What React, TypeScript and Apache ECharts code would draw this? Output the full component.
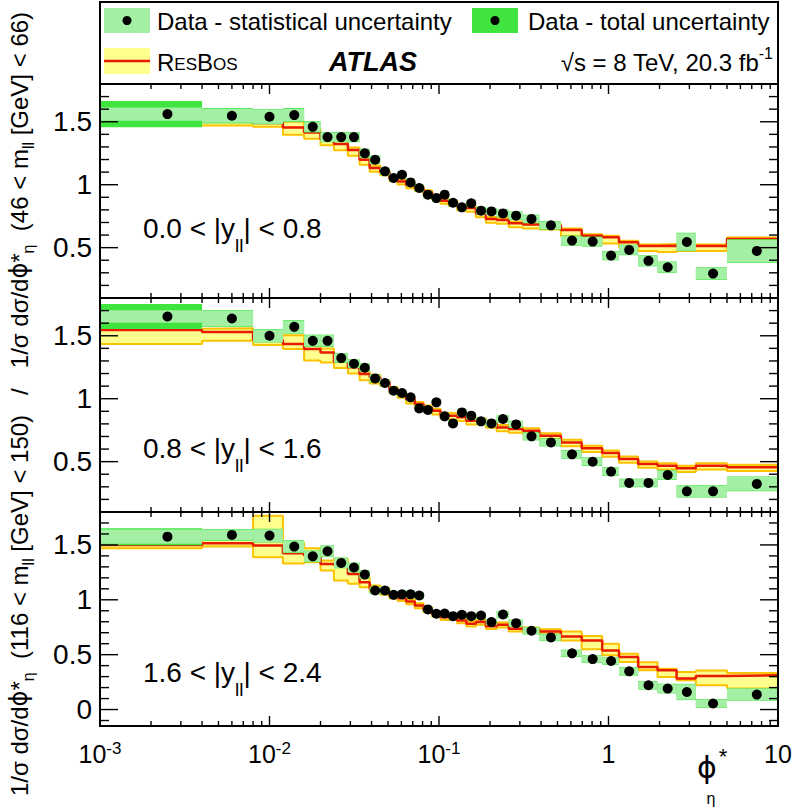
import React, { useEffect, useRef } from 'react';
import * as echarts from 'echarts';

const FONT = '"Liberation Sans", Arial, Helvetica, sans-serif';
const PHI_FONT = '"DejaVu Sans", "Liberation Sans", sans-serif';

// phi*_eta bin edges (first bin drawn from the axis minimum)
const binEdges = [0.001, 0.004, 0.008, 0.012, 0.016, 0.02, 0.024, 0.029, 0.034, 0.039, 0.045, 0.051, 0.057, 0.064, 0.072, 0.081, 0.091, 0.102, 0.114, 0.128, 0.145, 0.165, 0.189, 0.219, 0.258, 0.312, 0.391, 0.524, 0.695, 0.918, 1.153, 1.496, 1.947, 2.522, 3.277, 5, 10];

// Panel 1: 0.0 < |y_ll| < 0.8
const data1 = [1.561, 1.548, 1.54, 1.553, 1.46, 1.378, 1.378, 1.378, 1.249, 1.198, 1.106, 1.053, 1.079, 1.018, 0.974, 0.921, 0.894, 0.921, 0.857, 0.82, 0.852, 0.794, 0.788, 0.772, 0.754, 0.728, 0.677, 0.556, 0.548, 0.437, 0.482, 0.395, 0.344, 0.545, 0.294, 0.474];
const stat1 = [0.053, 0.055, 0.055, 0.05, 0.04, 0.037, 0.037, 0.037, 0.033, 0.03, 0.027, 0.025, 0.025, 0.025, 0.025, 0.025, 0.025, 0.025, 0.025, 0.025, 0.025, 0.025, 0.025, 0.027, 0.03, 0.03, 0.03, 0.036, 0.036, 0.033, 0.038, 0.04, 0.042, 0.069, 0.046, 0.089];
const total1 = [0.104, 0.062, 0.06, 0.056, 0.045, 0.041, 0.041, 0.041, 0.037, 0.034, 0.031, 0.029, 0.029, 0.029, 0.029, 0.029, 0.029, 0.029, 0.029, 0.029, 0.029, 0.029, 0.029, 0.031, 0.034, 0.034, 0.034, 0.04, 0.04, 0.037, 0.042, 0.044, 0.046, 0.073, 0.05, 0.093];
const resbos1 = [1.5, 1.5, 1.49, 1.455, 1.415, 1.363, 1.323, 1.275, 1.198, 1.132, 1.1, 1.053, 1.026, 0.997, 0.974, 0.94, 0.905, 0.873, 0.86, 0.825, 0.815, 0.772, 0.728, 0.72, 0.693, 0.683, 0.675, 0.64, 0.595, 0.582, 0.542, 0.513, 0.516, 0.513, 0.513, 0.569];
const resbosUp1 = [0.03, 0.03, 0.03, 0.045, 0.03, 0.03, 0.03, 0.02, 0.02, 0.02, 0.015, 0.015, 0.015, 0.015, 0.015, 0.015, 0.015, 0.015, 0.015, 0.015, 0.015, 0.015, 0.015, 0.015, 0.015, 0.015, 0.015, 0.012, 0.012, 0.012, 0.012, 0.012, 0.012, 0.012, 0.012, 0.012];
const resbosDown1 = [0.03, 0.03, 0.03, 0.058, 0.05, 0.05, 0.05, 0.045, 0.04, 0.03, 0.025, 0.025, 0.025, 0.025, 0.025, 0.025, 0.025, 0.025, 0.03, 0.03, 0.03, 0.03, 0.03, 0.03, 0.03, 0.03, 0.03, 0.05, 0.055, 0.05, 0.04, 0.04, 0.05, 0.04, 0.04, 0.03];

// Panel 2: 0.8 < |y_ll| < 1.6
const data2 = [1.653, 1.637, 1.5, 1.571, 1.46, 1.46, 1.323, 1.278, 1.246, 1.161, 1.125, 1.063, 1.045, 1.011, 0.923, 0.91, 0.971, 0.86, 0.804, 0.891, 0.865, 0.82, 0.804, 0.839, 0.796, 0.701, 0.653, 0.558, 0.5, 0.421, 0.331, 0.331, 0.394, 0.264, 0.264, 0.323];
const stat2 = [0.05, 0.06, 0.05, 0.05, 0.045, 0.045, 0.035, 0.03, 0.03, 0.03, 0.027, 0.025, 0.025, 0.025, 0.025, 0.025, 0.025, 0.025, 0.025, 0.025, 0.025, 0.025, 0.025, 0.025, 0.025, 0.028, 0.028, 0.03, 0.03, 0.03, 0.03, 0.03, 0.035, 0.045, 0.045, 0.055];
const total2 = [0.1, 0.066, 0.054, 0.054, 0.049, 0.049, 0.039, 0.034, 0.034, 0.034, 0.031, 0.029, 0.029, 0.029, 0.029, 0.029, 0.029, 0.029, 0.029, 0.029, 0.029, 0.029, 0.029, 0.029, 0.029, 0.032, 0.032, 0.034, 0.034, 0.034, 0.034, 0.034, 0.039, 0.049, 0.049, 0.059];
const resbos2 = [1.545, 1.53, 1.466, 1.434, 1.394, 1.368, 1.294, 1.25, 1.196, 1.17, 1.13, 1.077, 1.037, 0.992, 0.958, 0.931, 0.905, 0.873, 0.865, 0.852, 0.825, 0.825, 0.799, 0.772, 0.759, 0.746, 0.706, 0.653, 0.606, 0.569, 0.521, 0.482, 0.468, 0.447, 0.468, 0.455];
const resbosUp2 = [0.01, 0.03, 0.03, 0.07, 0.03, 0.03, 0.02, 0.02, 0.02, 0.02, 0.015, 0.015, 0.015, 0.015, 0.015, 0.015, 0.015, 0.015, 0.02, 0.02, 0.02, 0.02, 0.02, 0.02, 0.02, 0.02, 0.02, 0.02, 0.02, 0.02, 0.02, 0.02, 0.02, 0.02, 0.02, 0.02];
const resbosDown2 = [0.11, 0.07, 0.04, 0.04, 0.09, 0.08, 0.05, 0.05, 0.05, 0.05, 0.03, 0.03, 0.03, 0.03, 0.03, 0.03, 0.03, 0.03, 0.03, 0.03, 0.03, 0.03, 0.03, 0.03, 0.03, 0.03, 0.03, 0.03, 0.03, 0.03, 0.03, 0.03, 0.03, 0.03, 0.03, 0.03];

// Panel 3: 1.6 < |y_ll| < 2.4
const data3 = [1.575, 1.591, 1.585, 1.485, 1.396, 1.442, 1.336, 1.294, 1.23, 1.085, 1.085, 1.045, 1.05, 1.05, 1.039, 0.912, 0.873, 0.875, 0.851, 0.864, 0.851, 0.857, 0.797, 0.866, 0.787, 0.718, 0.657, 0.512, 0.46, 0.442, 0.348, 0.221, 0.191, 0.16, 0.055, 0.136];
const stat3 = [0.065, 0.05, 0.058, 0.055, 0.05, 0.05, 0.045, 0.04, 0.035, 0.03, 0.03, 0.03, 0.03, 0.03, 0.03, 0.025, 0.025, 0.025, 0.025, 0.025, 0.025, 0.025, 0.025, 0.03, 0.03, 0.03, 0.03, 0.03, 0.03, 0.03, 0.035, 0.035, 0.04, 0.07, 0.035, 0.055];
const total3 = [0.078, 0.055, 0.062, 0.059, 0.054, 0.054, 0.049, 0.044, 0.039, 0.034, 0.034, 0.034, 0.034, 0.034, 0.034, 0.029, 0.029, 0.029, 0.029, 0.029, 0.029, 0.029, 0.029, 0.034, 0.034, 0.034, 0.034, 0.034, 0.034, 0.034, 0.039, 0.039, 0.044, 0.074, 0.039, 0.059];
const resbos3 = [1.5, 1.515, 1.494, 1.424, 1.403, 1.327, 1.318, 1.236, 1.16, 1.1, 1.075, 1.039, 1.015, 0.985, 0.948, 0.912, 0.873, 0.842, 0.842, 0.812, 0.782, 0.797, 0.76, 0.773, 0.736, 0.727, 0.712, 0.666, 0.63, 0.539, 0.478, 0.387, 0.357, 0.282, 0.306, 0.312];
const resbosUp3 = [0.03, 0.03, 0.272, 0.096, 0.066, 0.03, 0.055, 0.03, 0.045, 0.03, 0.03, 0.02, 0.02, 0.02, 0.02, 0.02, 0.02, 0.02, 0.02, 0.02, 0.02, 0.02, 0.02, 0.02, 0.02, 0.02, 0.02, 0.045, 0.04, 0.06, 0.03, 0.045, 0.015, 0.06, 0.05, 0.02];
const resbosDown3 = [0.03, 0.03, 0.107, 0.094, 0.061, 0.06, 0.143, 0.09, 0.045, 0.03, 0.03, 0.025, 0.025, 0.025, 0.025, 0.025, 0.025, 0.025, 0.025, 0.025, 0.025, 0.025, 0.025, 0.025, 0.025, 0.025, 0.025, 0.036, 0.08, 0.045, 0.045, 0.03, 0.06, 0.015, 0.085, 0.12];

// Axis ticks and labels
const xMajorTicks = [0.001, 0.01, 0.1, 1, 10];
const xMinorMultipliers = [2, 3, 4, 5, 6, 7, 8, 9];
const yLabels12 = [0.5, 1, 1.5];
const yLabels3 = [0, 0.5, 1, 1.5];
const rapidityLabels = ['0.0 < |y{sub|ll}| < 0.8', '0.8 < |y{sub|ll}| < 1.6', '1.6 < |y{sub|ll}| < 2.4'];

const STAT_GREEN = '#a3efa3';
const TOTAL_GREEN = '#3fe43f';
const YELLOW = '#ffff8e';
const GOLD = '#fcc200';
const RED = '#e81a00';

const GRID_LEFT = 100;
const GRID_WIDTH = 678;
const GRID_TOPS = [84, 298, 512];
const GRID_HEIGHT = 214;

const panels = [
  { data: data1, stat: stat1, total: total1, rb: resbos1, up: resbosUp1, dn: resbosDown1, ymin: 0.1, ymax: 1.8, labels: yLabels12, labelY: 228 },
  { data: data2, stat: stat2, total: total2, rb: resbos2, up: resbosUp2, dn: resbosDown2, ymin: 0.1, ymax: 1.8, labels: yLabels12, labelY: 448 },
  { data: data3, stat: stat3, total: total3, rb: resbos3, up: resbosUp3, dn: resbosDown3, ymin: -0.15, ymax: 1.8, labels: yLabels3, labelY: 672 },
];

function stepPoints(vals: number[]) {
  const pts: number[][] = [];
  vals.forEach((v, i) => {
    pts.push([binEdges[i], v], [binEdges[i + 1], v]);
  });
  return pts;
}

function boxes(lo: number[], hi: number[]) {
  return lo.map((l, i) => [binEdges[i], binEdges[i + 1], l, hi[i]]);
}

const boxRender = (fill: string) => (params: any, api: any) => {
  const p0 = api.coord([api.value(0), api.value(3)]);
  const p1 = api.coord([api.value(1), api.value(2)]);
  return {
    type: 'rect',
    shape: { x: p0[0], y: p0[1], width: p1[0] - p0[0], height: p1[1] - p0[1] },
    style: { fill },
  };
};

function xTickData() {
  const items: number[][] = xMajorTicks.map((v) => [v, 1, 1]);
  xMajorTicks.slice(0, -1).forEach((d) => {
    xMinorMultipliers.forEach((m) => items.push([d * m, 1, 0]));
  });
  return items;
}

function yTickData(ymin: number, ymax: number) {
  const items: number[][] = [];
  const start = Math.ceil(ymin * 10 - 1e-9);
  const end = Math.floor(ymax * 10 + 1e-9);
  for (let k = start; k <= end; k++) {
    items.push([1, k / 10, k % 5 === 0 ? 1 : 0]);
  }
  return items;
}

const TICK_STYLE = { stroke: '#000', lineWidth: 1.4 };

const xTickRender = (params: any, api: any) => {
  const cs = params.coordSys;
  const x = api.coord([api.value(0), 1])[0];
  const len = api.value(2) ? 10 : 5;
  const children: any[] = [
    { type: 'line', shape: { x1: x, y1: cs.y, x2: x, y2: cs.y + len }, style: TICK_STYLE },
    { type: 'line', shape: { x1: x, y1: cs.y + cs.height - len, x2: x, y2: cs.y + cs.height }, style: TICK_STYLE },
  ];
  if (params.dataIndex === 0) {
    children.push({
      type: 'rect',
      shape: { x: cs.x, y: cs.y, width: cs.width, height: cs.height },
      style: { fill: 'none', stroke: '#000', lineWidth: 2 },
    });
  }
  return { type: 'group', children };
};

const yTickRender = (params: any, api: any) => {
  const cs = params.coordSys;
  const y = api.coord([1, api.value(1)])[1];
  const len = api.value(2) ? 18 : 9;
  return {
    type: 'group',
    children: [
      { type: 'line', shape: { x1: cs.x, y1: y, x2: cs.x + len, y2: y }, style: TICK_STYLE },
      { type: 'line', shape: { x1: cs.x + cs.width - len, y1: y, x2: cs.x + cs.width, y2: y }, style: TICK_STYLE },
    ],
  };
};

function buildOption() {
  const series: any[] = [];
  const centers = binEdges.slice(0, -1).map((e, i) => (e + binEdges[i + 1]) / 2);
  panels.forEach((p, i) => {
    const axes = { xAxisIndex: i, yAxisIndex: i };
    const rbLo = p.rb.map((v, k) => v - p.dn[k]);
    const rbHi = p.rb.map((v, k) => v + p.up[k]);
    series.push({ type: 'custom', ...axes, z: 1, silent: true, encode: { x: [0, 1], y: [2, 3] }, data: boxes(rbLo, rbHi), renderItem: boxRender(YELLOW) });
    series.push({ type: 'line', ...axes, z: 2, silent: true, symbol: 'none', data: stepPoints(rbHi), lineStyle: { color: GOLD, width: 2 } });
    series.push({ type: 'line', ...axes, z: 2, silent: true, symbol: 'none', data: stepPoints(rbLo), lineStyle: { color: GOLD, width: 2 } });
    series.push({ type: 'line', ...axes, z: 3, silent: true, symbol: 'none', data: stepPoints(p.rb), lineStyle: { color: RED, width: 2.5 } });
    series.push({
      type: 'custom', ...axes, z: 4, silent: true, encode: { x: [0, 1], y: [2, 3] },
      data: boxes(p.data.map((v, k) => v - p.total[k]), p.data.map((v, k) => v + p.total[k])),
      renderItem: boxRender(TOTAL_GREEN),
    });
    series.push({
      type: 'custom', ...axes, z: 5, silent: true, encode: { x: [0, 1], y: [2, 3] },
      data: boxes(p.data.map((v, k) => v - p.stat[k]), p.data.map((v, k) => v + p.stat[k])),
      renderItem: boxRender(STAT_GREEN),
    });
    series.push({ type: 'scatter', ...axes, z: 6, silent: true, symbol: 'circle', symbolSize: 10, itemStyle: { color: '#000', opacity: 1 }, data: centers.map((c, k) => [c, p.data[k]]) });
    series.push({ type: 'custom', ...axes, z: 7, silent: true, data: xTickData(), renderItem: xTickRender });
    series.push({ type: 'custom', ...axes, z: 7, silent: true, data: yTickData(p.ymin, p.ymax), renderItem: yTickRender });
  });

  const mid = { verticalAlign: 'middle', textVerticalAlign: 'middle' };
  const graphic: any[] = [
    { type: 'rect', z: 0, shape: { x: 100, y: 2, width: 678, height: 82 }, style: { fill: '#fff', stroke: '#000', lineWidth: 2 } },
    { type: 'rect', shape: { x: 104, y: 8, width: 46, height: 25 }, style: { fill: STAT_GREEN } },
    { type: 'circle', shape: { cx: 127, cy: 20.5, r: 4.5 }, style: { fill: '#000' } },
    { type: 'rect', shape: { x: 472, y: 8, width: 46, height: 25 }, style: { fill: TOTAL_GREEN } },
    { type: 'circle', shape: { cx: 495, cy: 20.5, r: 4.5 }, style: { fill: '#000' } },
    { type: 'rect', shape: { x: 104, y: 48, width: 46, height: 26 }, style: { fill: YELLOW } },
    { type: 'line', shape: { x1: 104, y1: 61, x2: 150, y2: 61 }, style: { stroke: RED, lineWidth: 2.5 } },
    { type: 'text', x: 157, y: 21, style: { text: 'Data - statistical uncertainty', fontSize: 24, fontFamily: FONT, fill: '#000', ...mid } },
    { type: 'text', x: 528, y: 21, style: { text: 'Data - total uncertainty', fontSize: 24, fontFamily: FONT, fill: '#000', ...mid } },
    {
      type: 'text', x: 157, y: 62,
      style: {
        text: '{a|R}{b|ES}{a|B}{b|OS}', fontSize: 24, fontFamily: FONT, fill: '#000', ...mid,
        rich: { a: { fontSize: 24, fontFamily: FONT, fill: '#000' }, b: { fontSize: 17, fontFamily: FONT, fill: '#000', padding: [5, 0, 0, 0] } },
      },
    },
    { type: 'text', x: 329, y: 62, style: { text: 'ATLAS', fontSize: 27, fontWeight: 'bold', fontStyle: 'italic', fontFamily: FONT, fill: '#000', ...mid } },
    {
      type: 'text', x: 773, y: 62,
      style: {
        text: '√s = 8 TeV, 20.3 fb{sup|-1}', fontSize: 24, fontFamily: FONT, fill: '#000', align: 'right', textAlign: 'right', ...mid,
        rich: { sup: { fontSize: 16, fontFamily: FONT, fill: '#000', padding: [0, 0, 18, 0] } },
      },
    },
    {
      type: 'text', x: 19, y: 404, rotation: Math.PI / 2,
      style: {
        text: '1/σ dσ/d{phi|ϕ}*{sub|η}  (116 < m{sub|ll} [GeV] < 150)   /   1/σ dσ/d{phi|ϕ}*{sub|η}  (46 < m{sub|ll} [GeV] < 66)',
        fontSize: 24, fontFamily: FONT, fill: '#000', align: 'center', textAlign: 'center', ...mid,
        rich: {
          sub: { fontSize: 16, fontFamily: FONT, fill: '#000', padding: [18, 0, 0, 0] },
          phi: { fontSize: 24, fontFamily: PHI_FONT, fill: '#000' },
        },
      },
    },
    { type: 'text', x: 707, y: 767, style: { text: 'ϕ', fontSize: 30, fontFamily: PHI_FONT, fill: '#000', align: 'center', textAlign: 'center', ...mid } },
    { type: 'text', x: 723, y: 756, style: { text: '*', fontSize: 22, fontFamily: FONT, fill: '#000', align: 'center', textAlign: 'center', ...mid } },
    { type: 'text', x: 711, y: 798, style: { text: 'η', fontSize: 16, fontFamily: FONT, fill: '#000', align: 'center', textAlign: 'center', ...mid } },
  ];
  panels.forEach((p, i) => {
    graphic.push({
      type: 'text', x: 143, y: p.labelY, z: 100,
      style: {
        text: rapidityLabels[i], fontSize: 28, fontFamily: FONT, fill: '#000', ...mid,
        rich: { sub: { fontSize: 19, fontFamily: FONT, fill: '#000', padding: [34, 0, 0, 0] } },
      },
    });
  });

  return {
    animation: false,
    textStyle: { fontFamily: FONT },
    grid: panels.map((p, i) => ({ left: GRID_LEFT, top: GRID_TOPS[i], width: GRID_WIDTH, height: GRID_HEIGHT, show: false })),
    xAxis: panels.map((p, i) => ({
      type: 'log', logBase: 10, min: 0.001, max: 10, gridIndex: i,
      axisLine: { show: false }, axisTick: { show: false }, splitLine: { show: false }, minorTick: { show: false },
      axisLabel: i === 2 ? {
        show: true, showMinLabel: true, showMaxLabel: true, margin: 14, color: '#000', fontSize: 25, lineHeight: 28, fontFamily: FONT,
        formatter: (v: number) => {
          const e = Math.round(Math.log10(v));
          if (e === 0) return '1';
          if (e === 1) return '10';
          return '{b|10}{s|' + e + '}';
        },
        rich: {
          b: { fontSize: 25, lineHeight: 28, fontFamily: FONT, color: '#000' },
          s: { fontSize: 17, lineHeight: 6, verticalAlign: 'top', fontFamily: FONT, color: '#000' },
        },
      } : { show: false },
    })),
    yAxis: panels.map((p, i) => ({
      type: 'value', min: p.ymin, max: p.ymax, gridIndex: i,
      axisLine: { show: false }, axisTick: { show: false }, splitLine: { show: false },
      axisLabel: { show: true, customValues: p.labels, fontSize: 28, color: '#000', margin: 8, fontFamily: FONT },
    })),
    series,
    graphic,
  };
}

export default function App() {
  const ref = useRef<HTMLDivElement>(null);
  useEffect(() => {
    if (!ref.current) return;
    const chart = echarts.init(ref.current, null, { renderer: 'svg' });
    chart.setOption(buildOption() as any);
    return () => chart.dispose();
  }, []);
  return <div ref={ref} style={{ position: 'absolute', left: 0, top: 0, width: 796, height: 808, background: '#fff' }} />;
}
